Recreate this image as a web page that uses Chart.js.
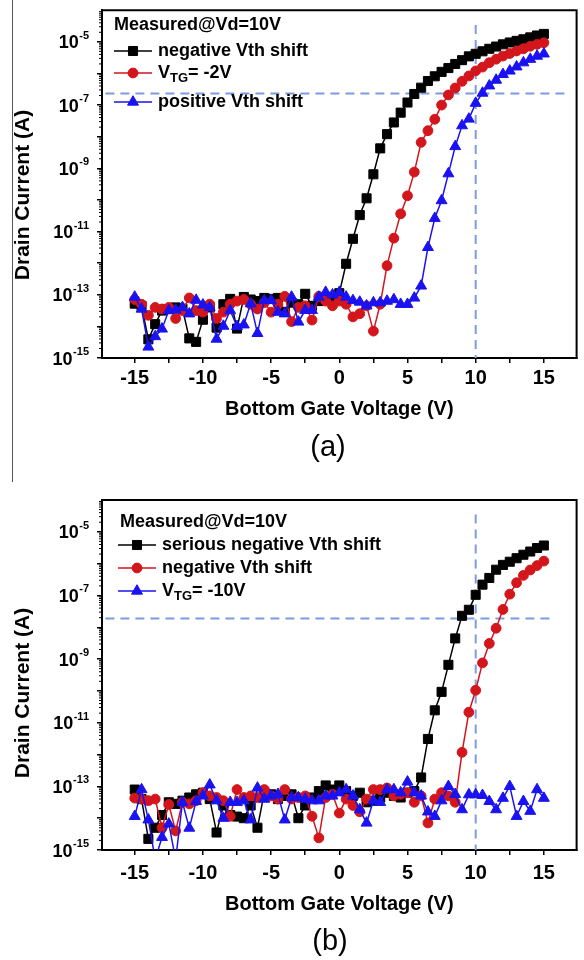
<!DOCTYPE html>
<html>
<head>
<meta charset="utf-8">
<script src="https://cdn.jsdelivr.net/npm/chart.js@4.4.0/dist/chart.umd.min.js"></script>
<style>
  body { margin: 0; background: #fff; width: 584px; height: 960px; position: relative; overflow: hidden; font-family: 'Liberation Sans', Arial, sans-serif; }
  .box { position: absolute; left: 0; width: 584px; height: 480px; }
  .tag { position: absolute; width: 60px; text-align: center; font-size: 29px; line-height: 29px; color: #000; }
  #edge { position: absolute; left: 12px; top: 0; width: 1px; height: 482px; background: #555; }
</style>
</head>
<body>
<div class="box" style="top:0"><canvas id="chartA" width="584" height="480"></canvas></div>
<div class="box" style="top:480px"><canvas id="chartB" width="584" height="480"></canvas></div>
<div id="edge"></div>
<div class="tag" style="left:298px;top:432px">(a)</div>
<div class="tag" style="left:300px;top:926px">(b)</div>
<script>
var FONT = "'Liberation Sans', Arial, Helvetica, sans-serif";

// bottom gate voltage (V)
var gateV = [-15,-14.5,-14,-13.5,-13,-12.5,-12,-11.5,-11,-10.5,-10,-9.5,-9,-8.5,-8,-7.5,-7,-6.5,-6,-5.5,
  -5,-4.5,-4,-3.5,-3,-2.5,-2,-1.5,-1,-0.5,0,0.5,1,1.5,2,2.5,3,3.5,4,4.5,5,5.5,6,6.5,7,7.5,
  8,8.5,9,9.5,10,10.5,11,11.5,12,12.5,13,13.5,14,14.5,15];

// drain current, read as log10(A)
var logA_negative = [
  -13.28,-13.35,-14.41,-13.93,-13.5,-13.45,-13.4,-13.44,-14.38,-14.49,
  -13.79,-13.4,-14.04,-13.3,-13.13,-14.07,-13.07,-13.15,-13.2,-13.1,
  -13.13,-13.1,-13.54,-13.25,-13.3,-12.97,-13.35,-13.2,-13.1,-13.15,
  -12.95,
  -12.02,-11.23,-10.48,-9.95,-9.19,-8.37,-7.92,-7.55,-7.24,-6.92,
  -6.65,-6.45,-6.24,-6.09,-5.95,-5.83,-5.70,-5.58,-5.46,-5.38,
  -5.30,-5.22,-5.15,-5.08,-5.02,-4.97,-4.92,-4.86,-4.80,-4.75];
var logA_vtg2 = [
  -13.15,-13.3,-13.65,-13.4,-13.45,-13.4,-13.75,-13.5,-13.1,-13.5,
  -13.55,-13.3,-13.75,-13.55,-13.3,-13.2,-13.15,-13.3,-13.45,-13.25,
  -13.55,-13.3,-13.05,-13.85,-13.4,-13.35,-13.8,-13.05,-13.2,-13.35,
  -13.2,
  -13.3,-13.7,-13.6,-13.35,-14.15,-13.3,-12.08,-11.21,-10.44,-9.87,
  -9.12,-8.18,-7.81,-7.45,-7.0,-6.68,-6.46,-6.25,-6.08,-5.92,
  -5.80,-5.66,-5.55,-5.45,-5.37,-5.29,-5.22,-5.14,-5.08,-5.03];
var logA_positive = [
  -13.07,-13.45,-14.65,-14.32,-14.08,-13.5,-13.48,-13.4,-13.6,-13.17,
  -13.32,-13.4,-14.4,-13.99,-13.5,-14.0,-13.95,-13.28,-14.22,-13.18,
  -13.18,-13.55,-13.6,-13.07,-13.86,-13.49,-13.49,-13.07,-12.92,-13.0,
  -12.92,
  -13.07,-13.18,-13.23,-13.35,-13.25,-13.25,-13.2,-13.15,-13.3,-13.3,
  -13.1,-12.72,-11.5,-10.58,-10.02,-9.17,-8.31,-7.65,-7.44,-6.94,
  -6.62,-6.39,-6.21,-6.03,-5.92,-5.79,-5.66,-5.55,-5.45,-5.38];

var logB_serious = [
  -13.1,-13.4,-14.65,-14.3,-13.9,-13.5,-13.55,-13.45,-13.35,-13.25,
  -13.2,-13.4,-14.45,-13.6,-13.9,-13.95,-14.0,-13.6,-14.3,-13.2,
  -13.25,-13.4,-13.3,-13.25,-14.0,-13.6,-13.35,-13.15,-12.97,-13.1,
  -12.97,
  -13.15,-13.3,-13.2,-13.5,-13.45,-13.35,-13.2,-13.3,-13.35,-13.2,
  -13.15,-12.72,-11.51,-10.61,-10.03,-9.18,-8.35,-7.64,-7.45,-6.98,
  -6.66,-6.45,-6.19,-6.04,-5.94,-5.83,-5.72,-5.62,-5.51,-5.43];
var logB_negative = [
  -13.37,-13.4,-13.45,-13.4,-14.3,-13.57,-14.4,-13.5,-13.55,-13.45,
  -13.2,-13.3,-13.35,-13.45,-13.94,-13.1,-13.35,-13.3,-13.35,-13.1,
  -13.3,-13.4,-13.1,-13.4,-13.35,-13.3,-13.94,-14.62,-13.35,-13.25,
  -13.84,
  -13.4,-13.6,-13.8,-13.4,-13.1,-13.1,-13.05,-13.3,-13.25,-13.2,
  -13.5,-13.3,-14.15,-13.4,-13.2,-13.3,-13.5,-11.93,-10.67,-9.98,
  -9.12,-8.51,-8.03,-7.44,-6.96,-6.6,-6.37,-6.2,-6.06,-5.92];
var logB_vtg10 = [
  -13.94,-13.1,-14.05,-15.3,-14.6,-14.18,-15.3,-13.5,-14.31,-13.47,
  -13.3,-12.95,-13.45,-14.0,-13.5,-13.5,-13.45,-14.05,-13.05,-13.4,
  -13.3,-13.25,-14.05,-13.35,-13.35,-13.4,-13.45,-13.45,-13.3,-13.3,
  -13.2,
  -13.1,-13.3,-13.73,-14.15,-13.45,-13.5,-13.1,-13.1,-13.2,-12.86,
  -13.2,-13.3,-13.8,-13.94,-13.45,-13.0,-13.25,-13.73,-13.26,-13.26,
  -13.28,-13.47,-13.73,-13.37,-13.0,-13.94,-13.47,-13.78,-13.1,-13.37];

// dashed guide lines: current level and Vg = 10 V
var guideA_current = [{x: -17.15, y: 2.3e-7}, {x: 16.9, y: 2.3e-7}];
var guideA_voltage = [{x: 10, y: 3.4e-5}, {x: 10, y: 1e-15}];
var guideB_current = [{x: -17.15, y: 1.9e-8}, {x: 15.85, y: 1.9e-8}];
var guideB_voltage = [{x: 10, y: 3.5e-5}, {x: 10, y: 1e-15}];

var xTickValues = [-15,-12.5,-10,-7.5,-5,-2.5,0,2.5,5,7.5,10,12.5,15];
var yTickDecades = [1e-15,1e-14,1e-13,1e-12,1e-11,1e-10,1e-9,1e-8,1e-7,1e-6,1e-5];
var yLabelExponents = [-15,-13,-11,-9,-7,-5];

var BLACK = '#000000', RED = '#d3151c', BLUE = '#1a12f0', GUIDE = '#7d9be0';
var R_SQ = 6.4, R_CI = 4.9, R_TR = 6.3;

function toPoints(logs) {
  return logs.map(function(v, i){ return {x: gateV[i], y: Math.pow(10, v)}; });
}

function marker(ctx, style, r, x, y) {
  ctx.beginPath();
  if (style === 'rect') {
    var s = r * Math.SQRT1_2;
    ctx.rect(x - s, y - s, 2 * s, 2 * s);
  } else if (style === 'circle') {
    ctx.arc(x, y, r, 0, Math.PI * 2);
  } else {
    for (var k = 0; k < 3; k++) {
      var a = k * 2 * Math.PI / 3;
      var px = x + Math.sin(a) * r, py = y - Math.cos(a) * r;
      if (k === 0) ctx.moveTo(px, py); else ctx.lineTo(px, py);
    }
    ctx.closePath();
  }
  ctx.fill();
  ctx.stroke();
}

var decor = {
  id: 'decor',
  afterDraw: function(chart, args, o) {
    var ctx = chart.ctx, a = chart.chartArea, y = chart.scales.y;
    ctx.save();
    ctx.strokeStyle = '#000';
    ctx.lineWidth = 2;
    ctx.beginPath();
    ctx.moveTo(a.left - 1, a.top);
    ctx.lineTo(a.right, a.top);
    ctx.lineTo(a.right, a.bottom + 1);
    ctx.stroke();

    // minor ticks on the log axis
    ctx.lineWidth = 1;
    ctx.beginPath();
    yTickDecades.forEach(function(d){
      for (var m = 2; m < 10; m++) {
        var py = y.getPixelForValue(d * m);
        if (py < a.top) continue;
        ctx.moveTo(a.left - 3, py);
        ctx.lineTo(a.left, py);
      }
    });
    ctx.stroke();

    // 10^n labels
    ctx.fillStyle = '#000';
    ctx.textBaseline = 'alphabetic';
    yLabelExponents.forEach(function(e){
      var py = y.getPixelForValue(Math.pow(10, e));
      var sup = String(e);
      ctx.font = 'bold 11px ' + FONT;
      var sw = ctx.measureText(sup).width;
      ctx.textAlign = 'left';
      ctx.fillText(sup, o.labelRight - sw, py - 3);
      ctx.font = 'bold 18px ' + FONT;
      ctx.textAlign = 'right';
      ctx.fillText('10', o.labelRight - sw - 0.5, py + 6.5);
    });

    // y axis title
    ctx.save();
    ctx.translate(o.titleX, o.titleY);
    ctx.rotate(-Math.PI / 2);
    ctx.font = 'bold 21px ' + FONT;
    ctx.textAlign = 'center';
    ctx.textBaseline = 'middle';
    ctx.fillText('Drain Current (A)', 0, 0);
    ctx.restore();

    // legend
    var L = o.legend;
    ctx.textAlign = 'left';
    ctx.textBaseline = 'middle';
    ctx.font = 'bold 18px ' + FONT;
    ctx.fillStyle = '#000';
    ctx.fillText(L.note, L.noteX, L.noteY);
    L.rows.forEach(function(r){
      ctx.strokeStyle = r.color;
      ctx.lineWidth = 1.5;
      ctx.beginPath();
      ctx.moveTo(L.x, r.y);
      ctx.lineTo(L.x + 38, r.y);
      ctx.stroke();
      ctx.fillStyle = r.color;
      ctx.lineWidth = 1;
      marker(ctx, r.style, r.radius, L.x + 19, r.y);
      var tx = L.x + 44;
      ctx.fillStyle = '#000';
      r.parts.forEach(function(p){
        ctx.font = (p.sub ? 'bold 13px ' : 'bold 18px ') + FONT;
        ctx.fillText(p.t, tx, r.y + (p.sub ? 5 : 0));
        tx += ctx.measureText(p.t).width;
      });
    });
    ctx.restore();
  }
};

function series(label, logs, color, style, radius, order) {
  return {
    label: label,
    data: toPoints(logs),
    borderColor: color,
    backgroundColor: color,
    borderWidth: 1.5,
    pointStyle: style,
    pointRadius: radius,
    pointBorderWidth: 1,
    pointBackgroundColor: color,
    pointBorderColor: color,
    order: order,
    clip: {left: 10, right: 10, top: 10, bottom: 0}
  };
}

function guide(data) {
  return {
    label: 'guide',
    data: data,
    borderColor: GUIDE,
    borderWidth: 2,
    borderDash: [9, 6],
    pointRadius: 0,
    order: 9
  };
}

function makeChart(id, sets, cfg) {
  return new Chart(document.getElementById(id), {
    type: 'line',
    data: { datasets: sets },
    options: {
      responsive: false,
      animation: false,
      events: [],
      layout: { padding: { top: cfg.padTop, right: 6, left: 0, bottom: 0 } },
      plugins: { legend: { display: false }, tooltip: { enabled: false }, decor: cfg.decor },
      scales: {
        x: {
          type: 'linear',
          min: -17.4, max: 17.4,
          afterBuildTicks: function(s){ s.ticks = xTickValues.map(function(v){ return {value: v}; }); },
          afterFit: function(s){ s.height = cfg.xHeight; },
          ticks: {
            autoSkip: false, maxRotation: 0, padding: cfg.xTickPad, color: '#000',
            font: { family: FONT, size: 20, weight: 'bold' },
            callback: function(v){ return v % 5 === 0 ? String(v) : ''; }
          },
          grid: { drawOnChartArea: false, drawTicks: true, tickLength: 5, color: '#000', lineWidth: 1.5 },
          border: { display: true, color: '#000', width: 2 },
          title: {
            display: true, text: 'Bottom Gate Voltage (V)', color: '#000',
            font: { family: FONT, size: 20, weight: 'bold', lineHeight: 1.2 },
            padding: { top: 0, bottom: cfg.xTitlePad }
          }
        },
        y: {
          type: 'logarithmic',
          min: 1e-15, max: 1e-4,
          afterBuildTicks: function(s){ s.ticks = yTickDecades.map(function(v){ return {value: v}; }); },
          afterFit: function(s){ s.width = 102; },
          ticks: { callback: function(){ return ''; } },
          grid: { drawOnChartArea: false, drawTicks: true, tickLength: 5, color: '#000', lineWidth: 1.5 },
          border: { display: true, color: '#000', width: 2 }
        }
      }
    },
    plugins: [decor]
  });
}

makeChart('chartA', [
  series('positive Vth shift', logA_positive, BLUE, 'triangle', R_TR, 1),
  series('VTG= -2V', logA_vtg2, RED, 'circle', R_CI, 2),
  series('negative Vth shift', logA_negative, BLACK, 'rect', R_SQ, 3),
  guide(guideA_current),
  guide(guideA_voltage)
], {
  padTop: 7, xHeight: 122, xTickPad: 3, xTitlePad: 59,
  decor: {
    labelRight: 89, titleX: 23, titleY: 195,
    legend: {
      note: 'Measured@Vd=10V', noteX: 114, noteY: 25, x: 114,
      rows: [
        { y: 51, color: BLACK, style: 'rect', radius: R_SQ, parts: [{t: 'negative Vth shift'}] },
        { y: 73, color: RED, style: 'circle', radius: R_CI, parts: [{t: 'V'}, {t: 'TG', sub: true}, {t: '= -2V'}] },
        { y: 102, color: BLUE, style: 'triangle', radius: R_TR, parts: [{t: 'positive Vth shift'}] }
      ]
    }
  }
});

makeChart('chartB', [
  series('VTG= -10V', logB_vtg10, BLUE, 'triangle', R_TR, 1),
  series('negative Vth shift', logB_negative, RED, 'circle', R_CI, 2),
  series('serious negative Vth shift', logB_serious, BLACK, 'rect', R_SQ, 3),
  guide(guideB_current),
  guide(guideB_voltage)
], {
  padTop: 20, xHeight: 110, xTickPad: 6, xTitlePad: 44,
  decor: {
    labelRight: 89, titleX: 23, titleY: 213,
    legend: {
      note: 'Measured@Vd=10V', noteX: 120, noteY: 42, x: 118,
      rows: [
        { y: 65, color: BLACK, style: 'rect', radius: R_SQ, parts: [{t: 'serious negative Vth shift'}] },
        { y: 88, color: RED, style: 'circle', radius: R_CI, parts: [{t: 'negative Vth shift'}] },
        { y: 111, color: BLUE, style: 'triangle', radius: R_TR, parts: [{t: 'V'}, {t: 'TG', sub: true}, {t: '= -10V'}] }
      ]
    }
  }
});
</script>
</body>
</html>
